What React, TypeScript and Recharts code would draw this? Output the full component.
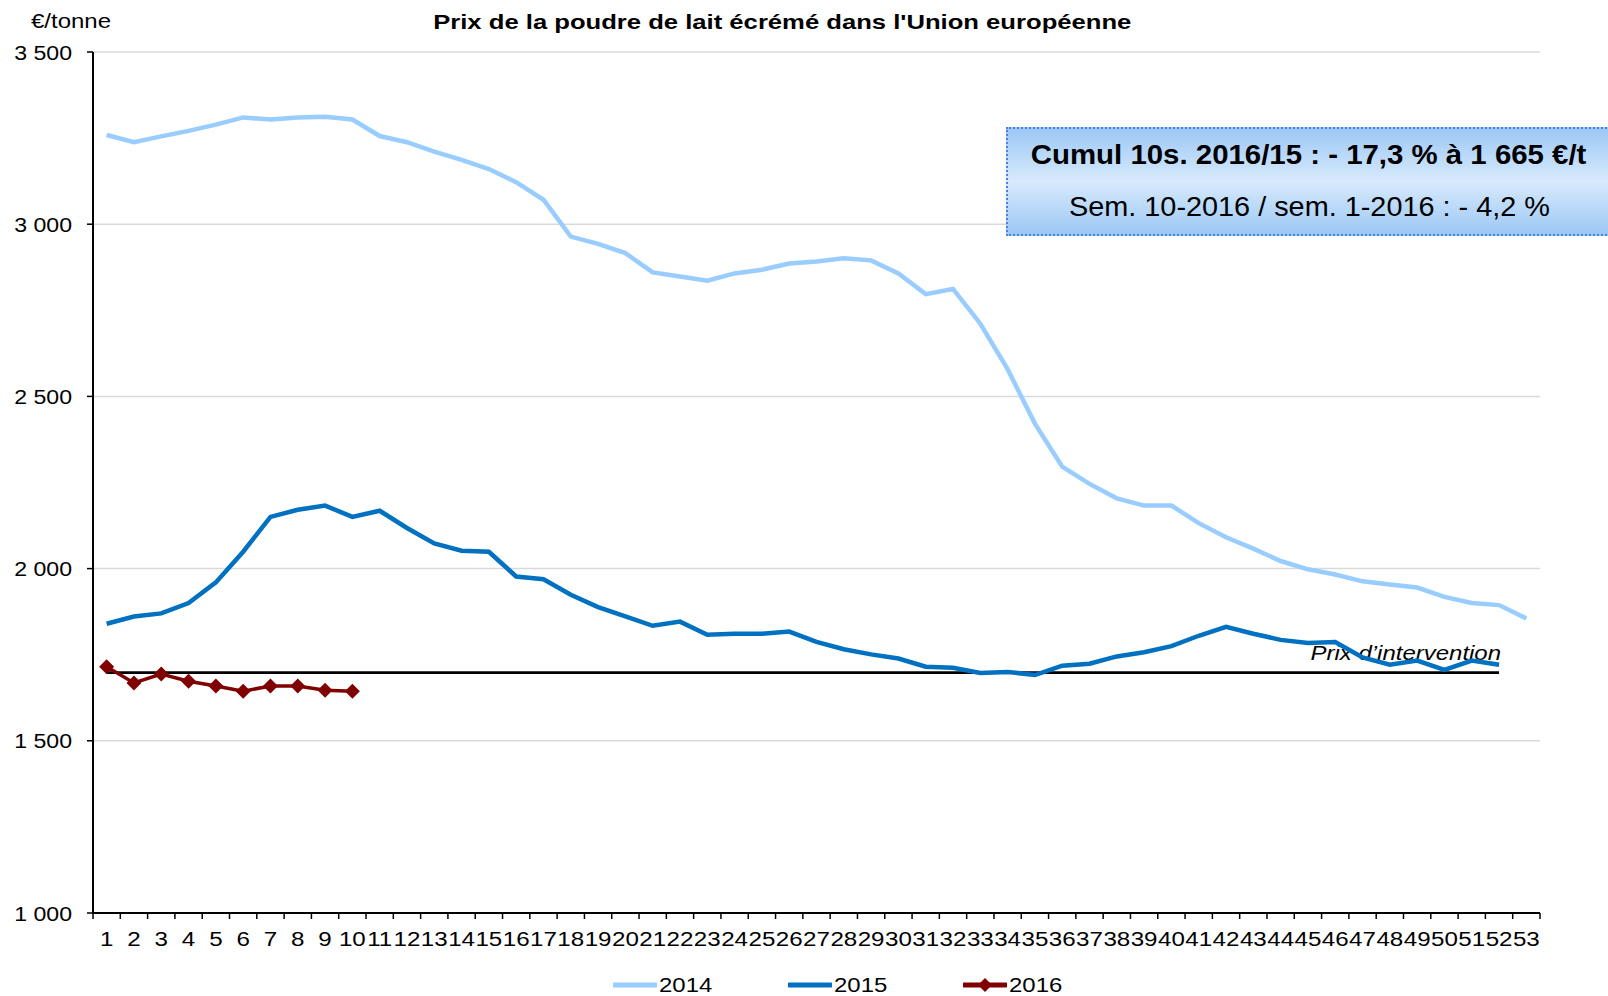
import { CartesianGrid, Legend, Line, LineChart, ReferenceLine, XAxis, YAxis } from "recharts";

const weeks = [
  "1", "2", "3", "4", "5", "6", "7", "8", "9", "10", "11", "12", "13", "14", "15", "16", "17", "18",
  "19", "20", "21", "22", "23", "24", "25", "26", "27", "28", "29", "30", "31", "32", "33", "34", "35",
  "36", "37", "38", "39", "40", "41", "42", "43", "44", "45", "46", "47", "48", "49", "50", "51", "52", "53",
];

const prix2014 = [
  3259, 3238, 3255, 3271, 3289, 3310, 3304, 3310, 3312, 3304, 3256, 3238, 3211, 3187, 3160, 3122, 3071,
  2964, 2943, 2916, 2860, 2848, 2836, 2857, 2868, 2886, 2892, 2901, 2895, 2857, 2797, 2812, 2711, 2579,
  2421, 2296, 2246, 2204, 2183, 2183, 2132, 2091, 2058, 2022, 1998, 1983, 1963, 1954, 1945, 1918, 1900,
  1894, 1855,
];

const prix2015 = [
  1840, 1861, 1870, 1900, 1960, 2049, 2150, 2171, 2183, 2150, 2168, 2118, 2073, 2052, 2049, 1977, 1969,
  1924, 1888, 1861, 1834, 1846, 1808, 1811, 1811, 1817, 1787, 1766, 1751, 1739, 1715, 1712, 1697, 1700,
  1691, 1718, 1724, 1745, 1757, 1775, 1805, 1831, 1811, 1793, 1784, 1787, 1742, 1721, 1733, 1706, 1733,
  1721,
];

const prix2016 = [1715, 1668, 1694, 1673, 1659, 1644, 1659, 1659, 1647, 1644];

const yTicks = [1000, 1500, 2000, 2500, 3000, 3500];
const prixIntervention = 1698;
const interventionFrom = "1";
const interventionTo = "52";

const data = weeks.map((week, i) => ({
  week,
  y2014: prix2014[i] ?? null,
  y2015: prix2015[i] ?? null,
  y2016: prix2016[i] ?? null,
}));

const FONT = '"Liberation Sans", Arial, sans-serif';
const HALF_BAND = 13.65;

const markers: Record<string, boolean> = { y2014: false, y2015: false, y2016: true };

function fmt(v: number) {
  return String(v).replace(/\B(?=(\d{3})+(?!\d))/g, " ");
}

function XTick({ x, y, payload, index }: any) {
  return (
    <g>
      <line x1={x - HALF_BAND} x2={x - HALF_BAND} y1={y} y2={y + 6} stroke="#000" strokeWidth={1.5} />
      {index === weeks.length - 1 && (
        <line x1={x + HALF_BAND} x2={x + HALF_BAND} y1={y} y2={y + 6} stroke="#000" strokeWidth={1.5} />
      )}
      <g transform={`translate(${x},${y + 32.5}) scale(1.15,1)`}>
        <text textAnchor="middle" fontSize={21} fontFamily={FONT} fill="#000">
          {payload.value}
        </text>
      </g>
    </g>
  );
}

function YTick({ x, y, payload }: any) {
  return (
    <g transform={`translate(${x},${y}) scale(1.1,1)`}>
      <text textAnchor="end" dy="0.36em" fontSize={21} fontFamily={FONT} fill="#000">
        {fmt(payload.value)}
      </text>
    </g>
  );
}

function Diamond({ cx, cy, size = 7.5 }: any) {
  if (cx == null || cy == null) return null;
  return <path d={`M${cx},${cy - size}L${cx + size},${cy}L${cx},${cy + size}L${cx - size},${cy}Z`} fill="#800000" />;
}

function InterventionLabel({ viewBox }: any) {
  if (!viewBox) return null;
  const xr = viewBox.x + viewBox.width + 2;
  const yb = viewBox.y - 12.5;
  return (
    <g transform={`translate(${xr},${yb}) scale(1.17,1)`}>
      <text textAnchor="end" fontSize={20.5} fontStyle="italic" fontFamily={FONT} fill="#000">
        Prix d’intervention
      </text>
    </g>
  );
}

function LegendContent({ payload }: any) {
  return (
    <div style={{ display: "flex", height: 26, alignItems: "center", fontFamily: FONT }}>
      {(payload || []).map((entry: any) => (
        <div key={entry.value} style={{ width: 175, display: "flex", alignItems: "center" }}>
          <svg width={44} height={20}>
            <line x1={1} x2={43} y1={10} y2={10} stroke={entry.color} strokeWidth={5} strokeLinecap="round" />
            {markers[entry.dataKey] && <Diamond cx={22} cy={10} size={7} />}
          </svg>
          <span
            style={{
              fontSize: 21,
              display: "inline-block",
              marginLeft: 2,
              transform: "scaleX(1.14)",
              transformOrigin: "left center",
            }}
          >
            {entry.value}
          </span>
        </div>
      ))}
    </div>
  );
}

export default function App() {
  return (
    <div style={{ position: "relative", width: 1608, height: 996, background: "#fff", fontFamily: FONT, overflow: "hidden" }}>
      <style>{`body{margin:0}`}</style>
      <LineChart width={1608} height={996} data={data} margin={{ top: 52, right: 68, left: 13, bottom: 17 }}>
        <CartesianGrid vertical={false} stroke="#d9d9d9" strokeWidth={1.5} />
        <XAxis
          dataKey="week"
          padding={{ left: HALF_BAND, right: HALF_BAND }}
          height={40}
          interval={0}
          tickSize={0}
          tickMargin={0}
          tickLine={false}
          tick={<XTick />}
          axisLine={{ stroke: "#000", strokeWidth: 2 }}
        />
        <YAxis
          width={80}
          domain={[1000, 3500]}
          ticks={yTicks}
          interval={0}
          tickSize={6}
          tickMargin={15}
          tick={<YTick />}
          tickLine={{ stroke: "#000", strokeWidth: 1.5 }}
          axisLine={{ stroke: "#000", strokeWidth: 2 }}
        />
        <ReferenceLine
          segment={[
            { x: interventionFrom, y: prixIntervention },
            { x: interventionTo, y: prixIntervention },
          ]}
          stroke="#000"
          strokeWidth={2.8}
          label={<InterventionLabel />}
        />
        <Line dataKey="y2014" name="2014" stroke="#99ccff" strokeWidth={4.5} dot={false} isAnimationActive={false} />
        <Line dataKey="y2015" name="2015" stroke="#0070c0" strokeWidth={4.5} dot={false} isAnimationActive={false} />
        <Line
          dataKey="y2016"
          name="2016"
          stroke="#800000"
          strokeWidth={3.5}
          dot={<Diamond size={7.5} />}
          isAnimationActive={false}
        />
        <Legend
          content={<LegendContent />}
          wrapperStyle={{ left: 613, width: 540, bottom: -2 }}
        />
      </LineChart>

      <div style={{ position: "absolute", left: 31, top: 9, fontSize: 20.5, transform: "scaleX(1.17)", transformOrigin: "left center" }}>
        €/tonne
      </div>
      <div style={{ position: "absolute", left: 0, width: 1564, top: 10, textAlign: "center" }}>
        <span style={{ display: "inline-block", fontSize: 20.5, fontWeight: "bold", transform: "scaleX(1.25)" }}>
          Prix de la poudre de lait écrémé dans l'Union européenne
        </span>
      </div>
      <div
        style={{
          position: "absolute",
          left: 1006,
          top: 127,
          width: 640,
          height: 109,
          boxSizing: "border-box",
          border: "2px dotted #4d7fe6",
          background: "linear-gradient(to bottom, #9cc8f5 0%, #d8eafc 50%, #9cc8f5 100%)",
        }}
      >
        <div style={{ width: 602, textAlign: "center", position: "absolute", top: 10 }}>
          <span style={{ display: "inline-block", fontSize: 28, fontWeight: "bold", transform: "scaleX(1.05)" }}>
            Cumul 10s. 2016/15 : - 17,3 % à 1 665 €/t
          </span>
        </div>
        <div style={{ width: 602, textAlign: "center", position: "absolute", top: 62 }}>
          <span style={{ display: "inline-block", fontSize: 28, transform: "scaleX(1.03)" }}>
            Sem. 10-2016 / sem. 1-2016 : - 4,2 %
          </span>
        </div>
      </div>
    </div>
  );
}
